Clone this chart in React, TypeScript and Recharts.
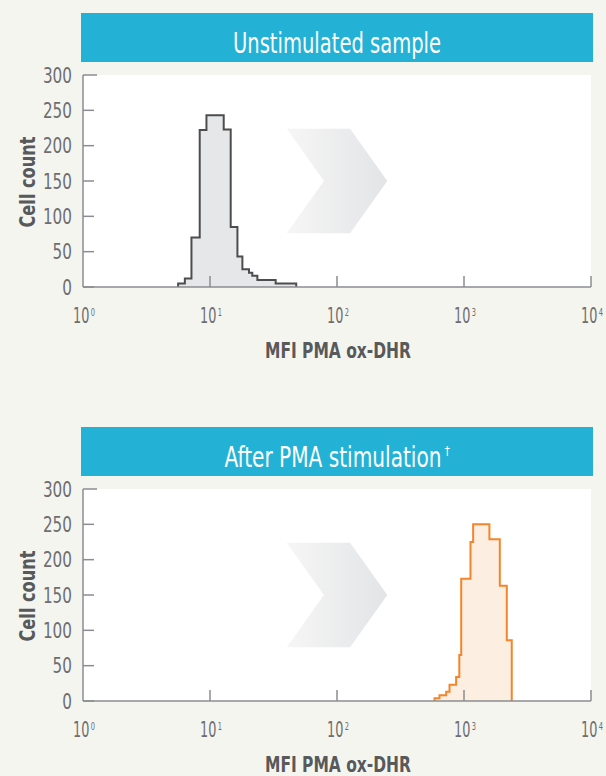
import React from 'react';
import { ComposedChart, Area, XAxis, YAxis, CartesianGrid, ReferenceArea } from 'recharts';

// ---------- data ----------
const yTicks = [0, 50, 100, 150, 200, 250, 300];
const xTickExponents = [0, 1, 2, 3, 4];
const xTickBase = '10';

// Unstimulated sample: histogram bin edges (log10 MFI) and cell counts
const unstimEdges = [0.749, 0.802, 0.854, 0.919, 0.972, 1.108, 1.163, 1.216, 1.255, 1.307, 1.333, 1.373, 1.517, 1.679];
const unstimCounts = [5, 12, 70, 222, 243, 223, 85, 43, 25, 20, 16, 10, 5];

// After PMA stimulation: histogram bin edges (log10 MFI) and cell counts
const pmaEdges = [2.768, 2.807, 2.86, 2.886, 2.938, 2.963, 2.978, 3.051, 3.072, 3.2, 3.282, 3.337, 3.376];
const pmaCounts = [4, 8, 13, 23, 34, 65, 173, 225, 250, 229, 163, 86];

// decorative chevron extent (log10 MFI, counts)
const chevronX = [1.604, 2.396];
const chevronY = [76, 224];

const titles = ['Unstimulated sample', 'After PMA stimulation'];
const xTitle = 'MFI PMA ox-DHR';
const yTitle = 'Cell count';

// ---------- helpers ----------
const toSteps = (edges: number[], counts: number[]) => [
  { x: edges[0], count: 0 },
  ...counts.map((c, i) => ({ x: edges[i], count: c })),
  { x: edges[edges.length - 1], count: 0 },
];

const FONT = "'Liberation Sans Narrow', 'DejaVu Sans Condensed', 'Roboto Condensed', 'Arial Narrow', sans-serif";
const AXIS = '#8b8d90';
const TICK_TEXT = '#6d6e71';
const TITLE_TEXT = '#58595b';
const HEADER = '#23b2d6';
const BG = '#f5f5f0';

const W = 606;
const H = 380;
const margin = { top: 75, right: 15, bottom: 13, left: 0 };
const TITLE_SCALE = 0.76;

const XTick = (props: any) => {
  const { x, y, payload } = props;
  return (
    <g>
      {payload.value !== 0 && (
        <line x1={x} x2={x} y1={y} y2={y - 11} stroke={AXIS} strokeWidth={1.5} />
      )}
      <text
        transform={`translate(${x + 1},${y + 36}) scale(0.68,1)`}
        x={0}
        y={0}
        textAnchor="middle"
        fill={TICK_TEXT}
        fontSize={21}
        fontFamily={FONT}
      >
        {xTickBase}
        <tspan dx={2} dy={-7} fontSize={11}>{payload.value}</tspan>
      </text>
    </g>
  );
};

const YTick = (props: any) => {
  const { x, y, payload } = props;
  const label = String(payload.value);
  return (
    <g>
      <line x1={x} x2={x + (payload.value === 300 ? 14 : 11)} y1={y} y2={y} stroke={AXIS} strokeWidth={1.5} />
      <text
        x={x - 11}
        y={y}
        dy="0.36em"
        textAnchor="end"
        fill={TICK_TEXT}
        fontSize={21}
        fontFamily={FONT}
        textLength={label.length * 9.7}
        lengthAdjust="spacingAndGlyphs"
      >
        {label}
      </text>
    </g>
  );
};

const Chevron = (props: any) => {
  const { x, y, width: w, height: h, gid } = props;
  const d = `M${x},${y} L${x + 0.63 * w},${y} L${x + w},${y + h / 2} L${x + 0.63 * w},${y + h} L${x},${y + h} L${x + 0.37 * w},${y + h / 2} Z`;
  return (
    <g>
      <defs>
        <linearGradient id={gid} x1="0" x2="1" y1="0" y2="0">
          <stop offset="0%" stopColor="#f6f6f6" />
          <stop offset="100%" stopColor="#e3e4e6" />
        </linearGradient>
      </defs>
      <path d={d} fill={`url(#${gid})`} stroke="none" />
    </g>
  );
};

const YLabel = (props: any) => {
  const vb = props.viewBox || {};
  const cx = (vb.x || 0) + 27;
  const cy = (vb.y || 0) + (vb.height || 0) / 2 + 1;
  return (
    <text
      x={cx}
      y={cy}
      transform={`rotate(-90 ${cx} ${cy})`}
      textAnchor="middle"
      dy="0.36em"
      fill={TITLE_TEXT}
      fontWeight="bold"
      fontSize={22}
      fontFamily={FONT}
      textLength={91}
      lengthAdjust="spacingAndGlyphs"
    >
      {yTitle}
    </text>
  );
};

const XLabel = (props: any) => {
  const vb = props.viewBox || {};
  const cx = (vb.x || 0) + (vb.width || 0) / 2 + 1;
  const by = (vb.y || 0) + 71;
  return (
    <text
      x={cx}
      y={by}
      textAnchor="middle"
      fill={TITLE_TEXT}
      fontWeight="bold"
      fontSize={22}
      fontFamily={FONT}
      textLength={146}
      lengthAdjust="spacingAndGlyphs"
    >
      {xTitle}
    </text>
  );
};

type PanelProps = {
  top: number;
  title: string;
  dagger?: boolean;
  titleLen: number;
  titleX: number;
  edges: number[];
  counts: number[];
  stroke: string;
  fill: string;
  gid: string;
};

const Panel = ({ top, title, dagger, titleLen, titleX, edges, counts, stroke, fill, gid }: PanelProps) => {
  const data = toSteps(edges, counts);
  return (
    <div style={{ position: 'absolute', left: 0, top, width: W, height: H }}>
      <ComposedChart width={W} height={H} data={data} margin={margin}>
        <CartesianGrid horizontal={false} vertical={false} fill="#ffffff" stroke="none" />
        <ReferenceArea
          x1={chevronX[0]}
          x2={chevronX[1]}
          y1={chevronY[0]}
          y2={chevronY[1]}
          ifOverflow="visible"
          shape={(p: any) => <Chevron {...p} gid={gid} />}
        />
        <Area
          type="stepAfter"
          dataKey="count"
          stroke={stroke}
          strokeWidth={2}
          fill={fill}
          fillOpacity={1}
          baseValue={0}
          dot={false}
          activeDot={false}
          isAnimationActive={false}
        />
        <XAxis
          type="number"
          dataKey="x"
          domain={[0, 4]}
          ticks={xTickExponents}
          allowDataOverflow
          height={80}
          tickSize={0}
          tickMargin={0}
          tickLine={false}
          axisLine={{ stroke: AXIS, strokeWidth: 1.5 }}
          tick={(p: any) => <XTick {...p} />}
          interval={0}
          label={(p: any) => <XLabel {...p} />}
        />
        <YAxis
          type="number"
          domain={[0, 300]}
          ticks={yTicks}
          width={83}
          tickSize={0}
          tickMargin={0}
          tickLine={false}
          axisLine={{ stroke: AXIS, strokeWidth: 1.5 }}
          tick={(p: any) => <YTick {...p} />}
          interval={0}
          label={(p: any) => <YLabel {...p} />}
        />
      </ComposedChart>
      <svg width={W} height={70} style={{ position: 'absolute', left: 0, top: 0 }}>
        <rect x={81} y={13} width={512} height={49} fill={HEADER} />
        <text
          transform={`translate(${titleX},53) scale(${TITLE_SCALE},1)`}
          x={0}
          y={0}
          textAnchor="middle"
          fill="#ffffff"
          fontSize={29}
          fontFamily={FONT}
          textLength={titleLen / TITLE_SCALE}
          lengthAdjust="spacingAndGlyphs"
        >
          {title}
        </text>
        {dagger && (
          <text
            x={titleX + titleLen / 2 + 3}
            y={41}
            textAnchor="start"
            fill="#ffffff"
            fontSize={12}
            fontFamily={FONT}
          >
            †
          </text>
        )}
      </svg>
    </div>
  );
};

export default function App() {
  return (
    <div style={{ position: 'absolute', left: 0, top: 0, width: W, height: 776, background: BG, overflow: 'hidden' }}>
      <Panel
        top={0}
        title={titles[0]}
        titleLen={208}
        titleX={337}
        edges={unstimEdges}
        counts={unstimCounts}
        stroke="#4d4d4f"
        fill="#e6e7e9"
        gid="chev1"
      />
      <Panel
        top={414}
        title={titles[1]}
        dagger
        titleLen={217}
        titleX={333}
        edges={pmaEdges}
        counts={pmaCounts}
        stroke="#f5852a"
        fill="#fdeee2"
        gid="chev2"
      />
    </div>
  );
}
